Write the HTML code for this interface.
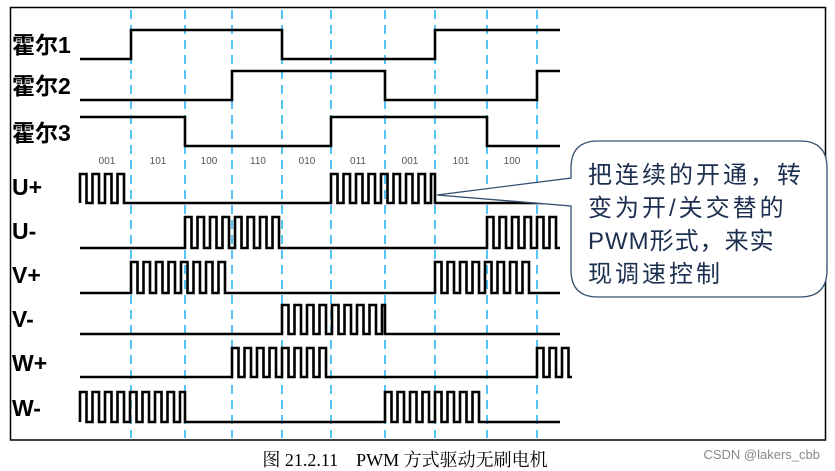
<!DOCTYPE html>
<html><head><meta charset="utf-8"><style>
html,body{margin:0;padding:0;background:#fff;}
body{width:835px;height:471px;position:relative;overflow:hidden;}
</style></head><body>
<svg id="s" width="835" height="471" viewBox="0 0 835 471" xmlns="http://www.w3.org/2000/svg" style="position:absolute;left:0;top:0">
<rect x="10.5" y="7.5" width="815" height="432.5" fill="#fff" stroke="#000" stroke-width="1.5"/>
<g id="dash" stroke="#29b6f0" stroke-width="1.6" stroke-dasharray="9,6"></g>
<g id="sig" fill="none" stroke="#000" stroke-width="2.6" stroke-linejoin="miter"></g>
<g font-family="'Liberation Sans','Noto Sans CJK SC',sans-serif" font-weight="bold" font-size="23" fill="#000">
<text x="12" y="53">霍尔1</text>
<text x="12" y="94">霍尔2</text>
<text x="12" y="141">霍尔3</text>
<text x="12" y="195">U+</text>
<text x="12" y="239">U-</text>
<text x="12" y="283">V+</text>
<text x="12" y="327">V-</text>
<text x="12" y="371">W+</text>
<text x="12" y="416">W-</text>
</g>
<g font-family="'Liberation Sans',sans-serif" font-size="10" fill="#555" text-anchor="middle">
<text x="107" y="164">001</text><text x="158" y="164">101</text><text x="209" y="164">100</text>
<text x="258" y="164">110</text><text x="307" y="164">010</text><text x="358" y="164">011</text>
<text x="410" y="164">001</text><text x="461" y="164">101</text><text x="512" y="164">100</text>
</g>
<path d="M 598 141 L 800 141 Q 827 141 827 168 L 827 270 Q 827 297 800 297 L 598 297 Q 571 297 571 270 L 571 206 L 437 195 L 571 178 L 571 168 Q 571 141 598 141 Z" fill="#fff" stroke="#34506e" stroke-width="1.3"/>
<g font-family="'Liberation Sans','Noto Sans CJK SC',sans-serif" font-size="24" fill="#1c2f4f">
<text x="588" y="183" letter-spacing="3">把连续的开通，转</text>
<text x="588" y="216" letter-spacing="3">变为开/关交替的</text>
<text x="588" y="249" letter-spacing="1">PWM形式，来实</text>
<text x="588" y="282" letter-spacing="3">现调速控制</text>
</g>
<text x="405" y="466" text-anchor="middle" font-family="'Liberation Serif','Noto Serif CJK SC',serif" font-size="18" fill="#000" xml:space="preserve">图 21.2.11    PWM 方式驱动无刷电机</text>
<text x="820" y="459" text-anchor="end" font-family="'Liberation Sans',sans-serif" font-size="13" fill="#888">CSDN @lakers_cbb</text>
</svg>
<script>
var NS="http://www.w3.org/2000/svg";
var xs=[131,185,232,282,331,385,435,487,537];
var dg=document.getElementById('dash');
xs.forEach(function(x){var l=document.createElementNS(NS,'line');l.setAttribute('x1',x);l.setAttribute('x2',x);l.setAttribute('y1',10);l.setAttribute('y2',438);dg.appendChild(l);});
var sg=document.getElementById('sig');
function add(d){var p=document.createElementNS(NS,'path');p.setAttribute('d',d);sg.appendChild(p);}
function hall(hi,lo,start,edges){var y=start?hi:lo;var d='M80 '+y;edges.forEach(function(x){d+=' L'+x+' '+y;y=(y==hi?lo:hi);d+=' L'+x+' '+y;});d+=' L560 '+y;add(d);}
hall(30,59,false,[131,282,435]);
hall(71,100,false,[232,385,537]);
hall(117,146,true,[185,331,487]);
function pwm(hi,lo,ranges,end){var d='M80 '+lo;var P=12.5,H=6.5;
ranges.forEach(function(r){var a=r[0],b=r[1];var x=a;d+=' L'+a+' '+lo;
while(x<b-0.5){var xe=Math.min(x+H,b);d+=' L'+x+' '+lo+' L'+x+' '+hi+' L'+xe+' '+hi+' L'+xe+' '+lo;x+=P;if(x>b-3&&x<b)x=b;}
d+=' L'+b+' '+lo;});
d+=' L'+(end||560)+' '+lo;add(d);}
pwm(174,203,[[80,131],[331,435]]);
pwm(217,248,[[185,282],[487,560]]);
pwm(262,293,[[131,232],[435,537]]);
pwm(305,334,[[282,385]]);
pwm(348,377,[[232,331],[537,572]],572);
pwm(392,422,[[80,185],[385,487]]);
</script>
</body></html>
